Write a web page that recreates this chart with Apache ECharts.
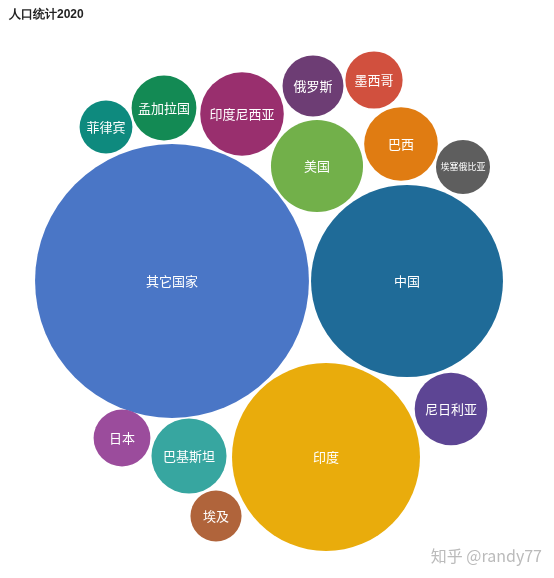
<!DOCTYPE html>
<html>
<head>
<meta charset="utf-8">
<script src="https://cdn.jsdelivr.net/npm/echarts@6/dist/echarts.min.js"></script>
<style>html,body{margin:0;padding:0;background:#fff}#chart1{width:554px;height:578px}</style>
</head>
<body>
<div id="chart1"></div>
<script>
// 人口（百万）
var countries = ['其它国家','中国','印度','美国','印度尼西亚','巴基斯坦','巴西','尼日利亚','孟加拉国','俄罗斯','墨西哥','日本','埃塞俄比亚','菲律宾','埃及'];
var population = [2930,1439,1380,331,273,220,212,206,164,145,128,126,114,109,102];
// 气泡中心位置（布局坐标）
var posX = [172,407,326,317,242,189,401,451,164,313,374,122,463,106,216];
var posY = [281,281,457,166,114,456,144,409,108,86,80,438,167,127,516];
var colors = ['#4a76c6','#1f6b98','#e9ac0c','#72b04a','#992f6e','#37a6a0','#e07c12','#5d4594','#138a54','#6d3d74','#d1503e','#9b4c9c','#5e5e5e','#0e8a7e','#b0643b'];

var myChart = echarts.init(document.getElementById('chart1'));
var data = countries.map(function (c, i) {
  return {
    name: c,
    value: [posX[i], posY[i], population[i]],
    itemStyle: { color: colors[i] },
    label: { fontSize: c === '埃塞俄比亚' ? 9 : 13 }
  };
});
var option = {
  title: {
    text: '人口统计2020', left: 4, top: 4,
    textStyle: { fontSize: 12, fontWeight: 'bold', color: '#222' }
  },
  grid: { left: 0, right: 0, top: 0, bottom: 0 },
  xAxis: { type: 'value', min: 0, max: 554, show: false },
  yAxis: { type: 'value', min: 0, max: 578, inverse: true, show: false },
  graphic: [{
    type: 'text', right: 12, bottom: 14,
    style: { text: '知乎 @randy77', fill: '#bbb', font: '16px "Noto Sans CJK SC"' }
  }],
  series: [{
    type: 'scatter',
    data: data,
    symbolSize: function (v) { return 2 * 2.53 * Math.sqrt(v[2]); },
    label: {
      show: true, position: 'inside', color: '#fff',
      fontFamily: 'Noto Sans CJK SC',
      formatter: function (p) { return p.name; }
    },
    itemStyle: { opacity: 1 }
  }]
};
myChart.setOption(option);
</script>
</body>
</html>
